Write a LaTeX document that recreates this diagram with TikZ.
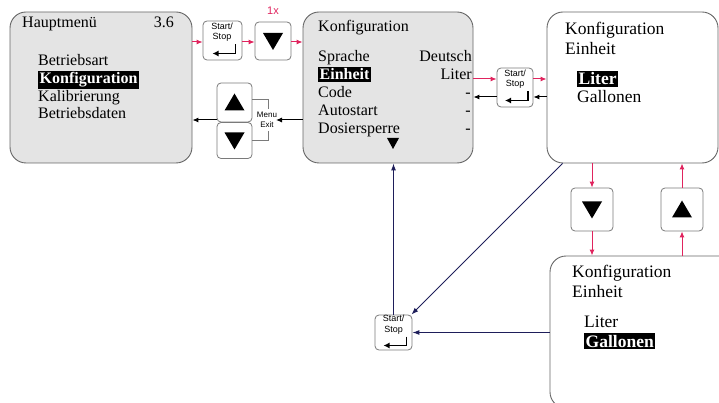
\documentclass[tikz,border=0pt]{standalone}
\usepackage{fontspec}
\setmainfont{Liberation Serif}
\newfontfamily\btnfont{Liberation Sans}
\usetikzlibrary{arrows.meta,calc}
\definecolor{boxgray}{HTML}{E4E4E4}
\definecolor{edgegray}{HTML}{666666}
\definecolor{btnedge}{HTML}{7A7A7A}
\definecolor{arrred}{HTML}{E0245E}
\definecolor{arrnavy}{HTML}{1E1E5A}
\newcommand\mydntri[1]{\fill ($(#1)+(-10,-8)$) -- ++(20,0) -- ++(-10,17) -- cycle;}
\newcommand\myuptri[1]{\fill ($(#1)+(-10,8)$) -- ++(20,0) -- ++(-10,-17) -- cycle;}
\newcommand\myenter[1]{%
  \draw[line width=1.4pt,-{Latex[length=6pt,width=6pt]}] ($(#1)+(13,4)$) -- ++(0,9) -- ++(-23,0);}
\begin{document}
\begin{tikzpicture}[x=1pt,y=-1pt,
  screen/.style={draw=edgegray,line width=0.9pt,rounded corners=16pt,inner sep=0pt},
  btn/.style={draw=btnedge,line width=0.8pt,rounded corners=4pt,fill=white,inner sep=0pt},
  txt/.style={anchor=base west,inner sep=0pt,font=\fontsize{16}{18}\selectfont},
  txtr/.style={anchor=base east,inner sep=0pt,font=\fontsize{16}{18}\selectfont},
  bigtxt/.style={anchor=base west,inner sep=0pt,font=\fontsize{17.5}{20}\selectfont},
  hl/.style={anchor=base west,inner sep=1.5pt,fill=black,text=white,font=\fontsize{16}{18}\selectfont\bfseries},
  bighl/.style={anchor=base west,inner sep=1.5pt,fill=black,text=white,font=\fontsize{17.5}{20}\selectfont\bfseries},
  sstext/.style={inner sep=0pt,align=center,font=\btnfont\fontsize{9}{10.5}\selectfont},
  redarr/.style={draw=arrred,line width=1pt,-{Latex[length=6pt,width=5pt]}},
  blkarr/.style={draw=black,line width=1pt,-{Latex[length=6pt,width=5pt]}},
  navarr/.style={draw=arrnavy,line width=1pt,-{Latex[length=7pt,width=5pt]}}]
\useasboundingbox (0,0) rectangle (719,403);
\clip (0,0) rectangle (719,403);

% screens
\node[screen,fill=boxgray,minimum width=182pt,minimum height=151pt] (b1) at (101,87.5) {};
\node[screen,fill=boxgray,minimum width=170pt,minimum height=151pt] (b2) at (388,87.5) {};
\node[screen,fill=white,minimum width=171pt,minimum height=151pt] (b3) at (632.5,87.5) {};
\node[screen,fill=white,minimum width=190pt,minimum height=152pt] (b4) at (645,332) {};

% screen 1 text
\node[txt] (t1a) at (22,28) {Hauptmenü};
\node[txtr] (t1b) at (174,28) {3.6};
\node[txt] (t1c) at (38,66) {Betriebsart};
\node[hl] (t1d) at (38,84) {Konfiguration};
\node[txt] (t1e) at (38,101.5) {Kalibrierung};
\node[txt] (t1f) at (38,119) {Betriebsdaten};

% screen 2 text
\node[txt] (t2a) at (318,32) {Konfiguration};
\node[txt] (t2b) at (318,62) {Sprache};
\node[txtr] (t2c) at (472,62) {Deutsch};
\node[hl] (t2d) at (318,80) {Einheit};
\node[txtr] (t2e) at (472,80) {Liter};
\node[txt] (t2f) at (318,98) {Code};
\node[txtr] (t2g) at (471,98) {-};
\node[txt] (t2h) at (318,116) {Autostart};
\node[txtr] (t2i) at (471,116) {-};
\node[txt] (t2j) at (318,134) {Dosiersperre};
\node[txtr] (t2k) at (471,134) {-};
\coordinate (tri2) at (393,143);
\fill ($(tri2)+(-6,-5)$) -- ++(12,0) -- ++(-6,11) -- cycle;

% screen 3 text
\node[bigtxt] (t3a) at (565,35) {Konfiguration};
\node[bigtxt] (t3b) at (565,55) {Einheit};
\node[bighl] (t3c) at (577,85) {Liter};
\node[bigtxt] (t3d) at (577,103) {Gallonen};

% screen 4 text
\node[bigtxt] (t4a) at (572,277) {Konfiguration};
\node[bigtxt] (t4b) at (572,297) {Einheit};
\node[bigtxt] (t4c) at (584,327) {Liter};
\node[bighl] (t4d) at (584,347) {Gallonen};

% buttons
\node[btn,minimum width=39pt,minimum height=39pt] (ss1) at (222.5,40.5) {};
\node[sstext] (ss1t) at (222,32) {Start/\\Stop};
\myenter{ss1}
\node[btn,minimum width=36pt,minimum height=38pt] (dn1) at (273,41) {};
\mydntri{dn1}
\node[inner sep=0pt,text=arrred,font=\btnfont\fontsize{11}{12}\selectfont] (onex) at (273,11) {1x};

\node[btn,minimum width=35pt,minimum height=39pt] (up1) at (234.5,102.5) {};
\myuptri{up1}
\node[btn,minimum width=35pt,minimum height=36pt] (dn2) at (234.5,140.5) {};
\mydntri{dn2}
\node[sstext,font=\btnfont\fontsize{8}{10}\selectfont] (menu) at (267,119.5) {Menu\\Exit};
\coordinate (brA) at (268,99);
\coordinate (brB) at (268,109);
\coordinate (brC) at (268,131);
\coordinate (brD) at (268,140);
\draw[btnedge,line width=0.7pt] (up1.east |- brA) -- (brA) -- (brB);
\draw[btnedge,line width=0.7pt] (dn2.east |- brD) -- (brD) -- (brC);

\node[btn,minimum width=36pt,minimum height=39pt] (ss2) at (515,87.5) {};
\node[sstext] (ss2t) at (515,79) {Start/\\Stop};
\myenter{ss2}

\node[btn,minimum width=42pt,minimum height=43pt] (dn3) at (592,209.5) {};
\mydntri{dn3}
\node[btn,minimum width=42pt,minimum height=43pt] (up3) at (682,209.5) {};
\myuptri{up3}

\node[btn,minimum width=37pt,minimum height=35pt] (ss3) at (393.5,332.5) {};
\node[sstext] (ss3t) at (393.5,324.5) {Start/\\Stop};
\myenter{ss3}

% red arrows
\draw[redarr] (b1.east |- 0,42) -- (ss1.west |- 0,42);
\draw[redarr] (ss1.east |- 0,42) -- (dn1.west |- 0,42);
\draw[redarr] (dn1.east |- 0,42) -- (b2.west |- 0,42);
\draw[redarr] (b2.east |- 0,79) -- (ss2.west |- 0,79);
\draw[redarr] (ss2.east |- 0,79) -- (b3.west |- 0,79);
\draw[redarr] (b3.south -| dn3) -- (dn3.north);
\draw[redarr] (dn3.south) -- (b4.north -| dn3);
\draw[redarr] (b4.north -| up3) -- (up3.south);
\draw[redarr] (up3.north) -- (b3.south -| up3);

% black arrows
\draw[blkarr] (b3.west |- 0,97) -- (ss2.east |- 0,97);
\draw[blkarr] (ss2.west |- 0,97) -- (b2.east |- 0,97);
\draw[blkarr] (b2.west |- 0,120) -- (276,120);
\draw[blkarr] (up1.west |- 0,120) -- (b1.east |- 0,120);

% navy arrows
\draw[navarr] (b4.west |- ss3) -- (ss3.east);
\draw[navarr] ([xshift=16pt]b3.south west) -- ([xshift=-1pt]ss3.north east);
\draw[navarr] (ss3.north) -- (ss3.north |- b2.south);
\end{tikzpicture}
\end{document}
